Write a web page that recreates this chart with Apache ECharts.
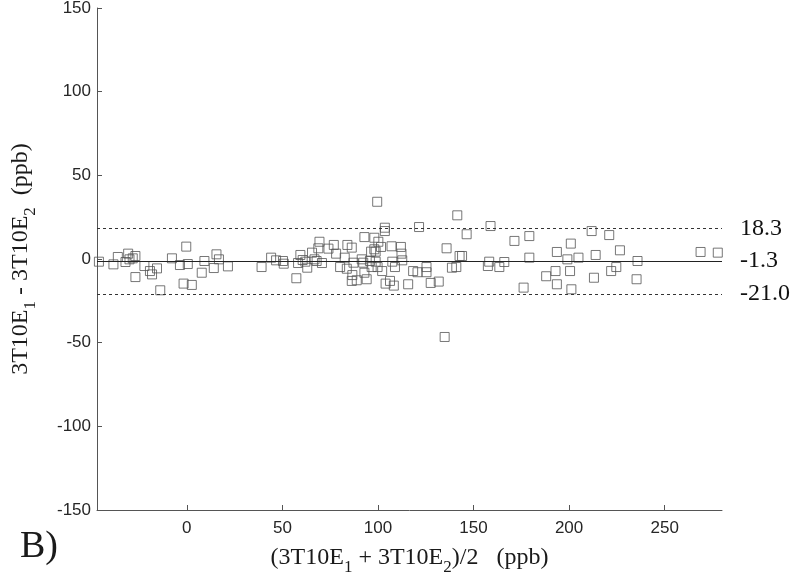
<!DOCTYPE html>
<html>
<head>
<meta charset="utf-8">
<script src="https://cdn.jsdelivr.net/npm/echarts@6/dist/echarts.min.js"></script>
<style>
  html, body { margin: 0; padding: 0; background: #fff; }
  #chart { width: 800px; height: 586px; }
</style>
</head>
<body>
<div id="chart"></div>
<script>
// mean of the two measurements (ppb)
const meanValues = [
  -46, -38.4, -36.1, -32.1, -30.7, -30, -26.9, -28.3, -22.2, -26.9,
  -19.3, -18.2, -15.6, -13.9, -7.8, -3.6, -0.3, 0.5, -1.7, 2.6,
  7.8, 9.2, 14.1, 15.5, 16.8, 21.5, 39.1, 44.1, 46.7, 50.3,
  50.7, 57.3, 58.2, 59.4, 60.6, 63, 62, 65.5, 66.8, 67.9,
  68.8, 69.4, 70.7, 74.1, 76.9, 78.1, 80.2, 82.6, 84, 83.7,
  86.3, 86.6, 86.3, 87.2, 99.6, 103.6, 103.6, 121.5, 141.5, 146.4,
  92.9, 98.1, 100.2, 101.6, 96.4, 98.1, 98.8, 107.1, 112, 112.3,
  112.7, 107.5, 108.9, 91.5, 92.3, 98.8, 99.8, 96.7, 92.9, 94.1,
  88.9, 102.2, 104, 106.3, 108.3, 115.8, 118.4, 120.7, 125.4, 125.4,
  127.6, 131.8, 135.9, 138.7, 141, 142.7, 144, 95.8, 134.9, 158.9,
  171.4, 179.2, 158.2, 157.5, 163.5, 166.1, 176.2, 179.2, 188, 192.9,
  193.6, 193.6, 199.1, 200.5, 200.9, 201.2, 204.9, 211.8, 213.9, 213,
  221, 222, 226.6, 224.7, 235.8, 235.3, 268.8, 277.8
];
// difference of the two measurements (ppb)
const diffValues = [
  -1.6, -3.2, 1.2, -1.8, 3.2, -0.2, 1.8, 0.4, -4.2, -10.8,
  -7.2, -9.2, -5.6, -18.7, 0.4, -3.6, 7.4, -3.0, -14.7, -15.5,
  -8.2, -1.2, -5.4, 2.8, -0.2, -4.4, -4.8, 0.8, -0.8, -1.2,
  -2.8, -11.5, -2.4, 2.4, -0.6, -5.2, -1.6, 3.8, -0.2, -1.2,
  6.4, 10.3, -2.4, 6.2, 8.4, 3.2, -4.8, 0.8, 8.4, -5.8,
  6.8, -9.6, -13.1, -2.2, 34.2, 18.7, 16.7, 19.1, 26.1, 14.8,
  13.1, 12.7, 10.3, 7.2, 4.4, 5.8, 4.4, 7.6, 7.2, 3.2,
  -0.8, -1.6, -4.8, -0.2, -2.2, -1.6, -4.8, -4.8, -8.2, -12.1,
  -12.7, -7.2, -14.7, -13.1, -15.9, -15.1, -7.2, -7.9, -4.8, -7.9,
  -14.3, -13.5, 6.4, -5.2, -4.8, 1.8, 1.8, -1.2, -46.6, 19.7,
  10.8, 13.7, -1.6, -4.2, -4.8, -1.8, -17.1, 0.8, -10.3, -7.2,
  4.2, -15.1, -0.2, -7.2, 9.2, -18.1, 0.8, 16.7, 2.4, -11.2,
  14.3, -7.2, 5.2, -4.8, -1.2, -12.1, 4.2, 3.8
];
const upperLimit = 18.3;
const meanDiff = -1.3;
const lowerLimit = -21.0;
const xTicks = [0, 50, 100, 150, 200, 250];

const points = meanValues.map((v, i) => [v, diffValues[i]]);

const serif = "'Liberation Serif', 'DejaVu Serif', serif";
const sans = "'Liberation Sans', Arial, sans-serif";

const nameRich = {
  n: { fontFamily: serif, fontSize: 24, color: "#1a1a1a", lineHeight: 30, verticalAlign: "top" },
  s: { fontFamily: serif, fontSize: 17, color: "#1a1a1a", lineHeight: 17, verticalAlign: "bottom" },
};

const chart = echarts.init(document.getElementById("chart"));

const option = {
  backgroundColor: "#fff",
  animation: false,
  grid: {
    left: 97,
    top: 8,
    width: 625,
    height: 502,
    outerBoundsMode: "none",
  },
  xAxis: {
    type: "value",
    min: -47,
    max: 280,
    name: "{n|(3T10E}{s|1}{n| + 3T10E}{s|2}{n|)/2   (ppb)}",
    nameLocation: "middle",
    nameGap: 36,
    nameTextStyle: { rich: nameRich },
    axisLine: { onZero: false, lineStyle: { color: "#555", width: 1 } },
    axisTick: {
      inside: true,
      length: 5,
      customValues: xTicks,
      lineStyle: { color: "#555" },
    },
    axisLabel: {
      customValues: xTicks,
      color: "#262626",
      fontFamily: sans,
      fontSize: 17,
      margin: 10,
    },
    splitLine: { show: false },
  },
  yAxis: {
    type: "value",
    min: -150,
    max: 150,
    interval: 50,
    name: "{n|3T10E}{s|1}{n| - 3T10E}{s|2}{n|  (ppb)}",
    nameLocation: "middle",
    nameGap: 58,
    nameTextStyle: { rich: nameRich },
    axisLine: { show: true, onZero: false, lineStyle: { color: "#555", width: 1 } },
    axisTick: { show: true, inside: true, length: 5, lineStyle: { color: "#555" } },
    axisLabel: {
      color: "#262626",
      fontFamily: sans,
      fontSize: 17,
      margin: 6,
    },
    splitLine: { show: false },
  },
  series: [
    {
      type: "scatter",
      data: points,
      symbol: "rect",
      symbolSize: 9,
      clip: false,
      itemStyle: {
        color: "transparent",
        borderColor: "#555",
        borderWidth: 1,
      },
      markLine: {
        silent: true,
        symbol: "none",
        label: {
          position: "end",
          distance: 18,
          color: "#111",
          fontFamily: serif,
          fontSize: 24,
          formatter: (p) => p.value.toFixed(1),
        },
        data: [
          { yAxis: upperLimit, lineStyle: { type: [3, 3], color: "#333", width: 1 } },
          { yAxis: meanDiff, lineStyle: { type: "solid", color: "#222", width: 1 } },
          { yAxis: lowerLimit, lineStyle: { type: [3, 3], color: "#333", width: 1 } },
        ],
      },
    },
  ],
  graphic: [
    {
      type: "text",
      left: 20,
      top: 528,
      style: {
        text: "B)",
        font: "38px " + serif,
        fill: "#1a1a1a",
      },
    },
  ],
};

chart.setOption(option);
</script>
</body>
</html>
